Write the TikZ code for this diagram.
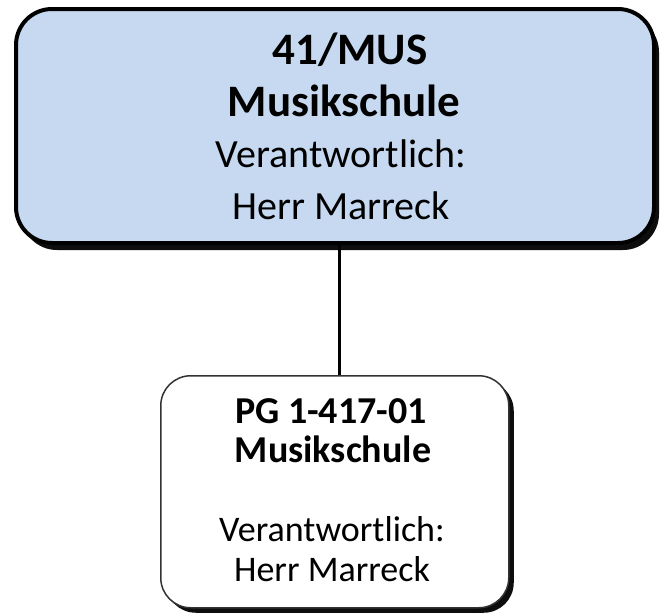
\documentclass[tikz,border=0pt]{standalone}
\usepackage{fontspec}
\setmainfont{Carlito}
\usetikzlibrary{shadows,calc}
\definecolor{boxblue}{RGB}{198,217,240}
\begin{document}
\begin{tikzpicture}[x=1pt,y=-1pt,
  topbox/.style={draw=black,line width=4pt,fill=boxblue,rounded corners=36pt,
    drop shadow={shadow xshift=5pt,shadow yshift=-7pt,opacity=0.95,fill=black}},
  subbox/.style={draw=black!80,line width=1.5pt,fill=white,rounded corners=30pt,
    drop shadow={shadow xshift=5pt,shadow yshift=-5pt,opacity=0.95,fill=black}},
  bigbold/.style={anchor=base,inner sep=0pt,font=\fontsize{45}{52}\selectfont\bfseries},
  bigtxt/.style={anchor=base,inner sep=0pt,font=\fontsize{40}{48}\selectfont},
  smallbold/.style={anchor=base,inner sep=0pt,font=\fontsize{38}{44}\selectfont\bfseries},
  smalltxt/.style={anchor=base,inner sep=0pt,font=\fontsize{36}{42}\selectfont},
  conn/.style={line width=3pt,black}]
\useasboundingbox[fill=white] (0,0) rectangle (662,614);
\node[topbox,minimum width=638pt,minimum height=234pt,anchor=north west] (top) at (14,7) {};
\node[subbox,minimum width=348pt,minimum height=232pt,anchor=north west] (sub) at (160,375) {};
\coordinate (c1) at (339,241);
\coordinate (c2) at (339,375);
\draw[conn] (top.south -| c1) -- (sub.north -| c2);
\node[bigbold] (t1) at (350,64) {41/MUS};
\node[bigbold] (t2) at (344,116) {Musikschule};
\node[bigtxt] (t3) at (341,167) {Verantwortlich:};
\node[bigtxt] (t4) at (341,219) {Herr Marreck};
\node[smallbold] (s1) at (331,423) {PG 1-417-01};
\node[smallbold] (s2) at (333,462) {Musikschule};
\node[smalltxt] (s3) at (332,541) {Verantwortlich:};
\node[smalltxt] (s4) at (332,581) {Herr Marreck};
\end{tikzpicture}
\end{document}
